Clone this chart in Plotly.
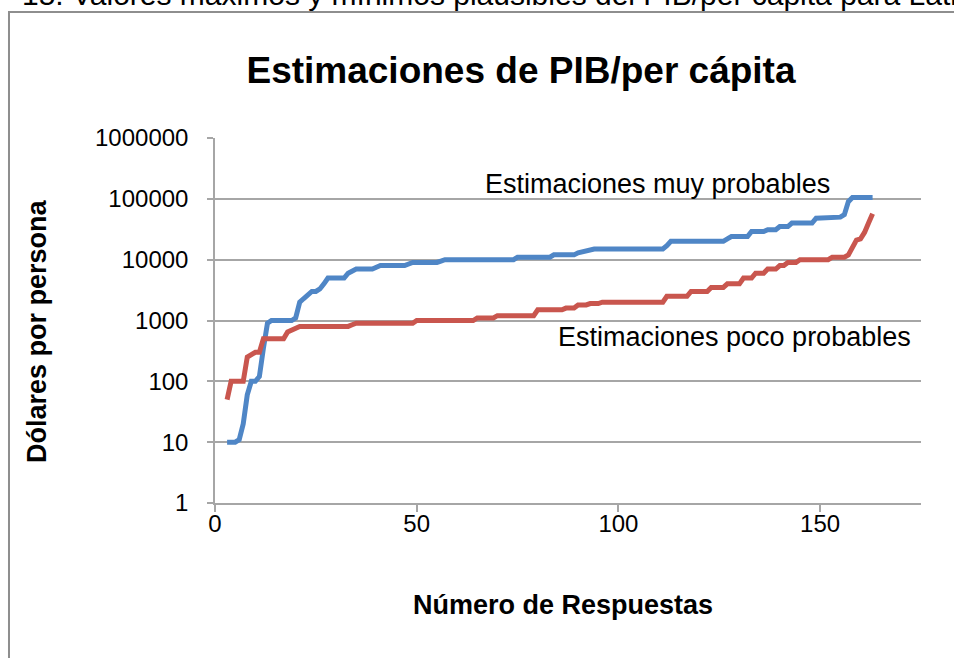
import plotly.graph_objects as go

# Response number (sorted answers)
responses = list(range(3, 164))

# "Estimaciones muy probables" (upper, blue)
muy_probables = [
    10, 10, 10, 11, 20, 60, 100, 100, 120, 350,
    900, 1000, 1000, 1000, 1000, 1000, 1000, 1100, 2000, 2300,
    2600, 3000, 3000, 3300, 4000, 5000, 5000, 5000, 5000, 5000,
    6000, 6500, 7000, 7000, 7000, 7000, 7000, 7500, 8000, 8000,
    8000, 8000, 8000, 8000, 8000, 8500, 9000, 9000, 9000, 9000,
    9000, 9000, 9000, 9500, 10000, 10000, 10000, 10000, 10000, 10000,
    10000, 10000, 10000, 10000, 10000, 10000, 10000, 10000, 10000, 10000,
    10000, 10000, 11000, 11000, 11000, 11000, 11000, 11000, 11000, 11000,
    11000, 12000, 12000, 12000, 12000, 12000, 12000, 13000, 13500, 14000,
    15000, 15000, 15000, 15000, 15000, 15000, 15000, 15000, 15000, 15000,
    15000, 15000, 15000, 15000, 15000, 15000, 15000, 15000, 15000, 17000,
    20000, 20000, 20000, 20000, 20000, 20000, 20000, 20000, 20000, 20000,
    20000, 20000, 20000, 20000, 22000, 24000, 24000, 24000, 24000, 24000,
    29000, 29000, 29000, 29000, 31000, 31000, 31000, 35000, 35000, 35000,
    40000, 40000, 40000, 40000, 40000, 40000, 48000, 48000, 48000, 48000,
    48000, 48000, 50000, 55000, 90000, 105000, 105000, 105000, 105000, 105000,
    105000,
]

# "Estimaciones poco probables" (lower, red)
poco_probables = [
    50, 100, 100, 100, 100, 250, 270, 300, 300, 500,
    500, 500, 500, 500, 500, 650, 700, 750, 800, 800,
    800, 800, 800, 800, 800, 800, 800, 800, 800, 800,
    800, 850, 900, 900, 900, 900, 900, 900, 900, 900,
    900, 900, 900, 900, 900, 900, 900, 1000, 1000, 1000,
    1000, 1000, 1000, 1000, 1000, 1000, 1000, 1000, 1000, 1000,
    1000, 1000, 1100, 1100, 1100, 1100, 1100, 1200, 1200, 1200,
    1200, 1200, 1200, 1200, 1200, 1200, 1200, 1500, 1500, 1500,
    1500, 1500, 1500, 1500, 1600, 1600, 1600, 1800, 1800, 1800,
    1900, 1900, 1900, 2000, 2000, 2000, 2000, 2000, 2000, 2000,
    2000, 2000, 2000, 2000, 2000, 2000, 2000, 2000, 2000, 2500,
    2500, 2500, 2500, 2500, 2500, 3000, 3000, 3000, 3000, 3000,
    3500, 3500, 3500, 3500, 4000, 4000, 4000, 4000, 5000, 5000,
    5000, 6000, 6000, 6000, 7000, 7000, 7000, 8000, 8000, 9000,
    9000, 9000, 10000, 10000, 10000, 10000, 10000, 10000, 10000, 10000,
    11000, 11000, 11000, 11000, 12000, 16000, 21000, 22000, 28000, 40000,
    57000,
]

y_tickvals = [1, 10, 100, 1000, 10000, 100000, 1000000]
y_ticktext = ["1", "10", "100", "1000", "10000", "100000", "1000000"]
x_tickvals = [0, 50, 100, 150]
x_ticktext = ["0", "50", "100", "150"]

FONT = "Liberation Sans, Arial, Helvetica, sans-serif"
GRID = "#a6a6a6"

fig = go.Figure()
fig.add_trace(go.Scatter(x=responses, y=muy_probables, mode="lines",
                         line=dict(color="#4F86C6", width=5),
                         name="Estimaciones muy probables", showlegend=False))
fig.add_trace(go.Scatter(x=responses, y=poco_probables, mode="lines",
                         line=dict(color="#C9564E", width=5),
                         name="Estimaciones poco probables", showlegend=False))

fig.update_layout(
    width=954, height=658, autosize=False,
    margin=dict(l=215, r=33, t=138, b=155),
    paper_bgcolor="white", plot_bgcolor="white",
    font=dict(family=FONT, color="black"),
    title=dict(text="<b>Estimaciones de PIB/per cápita</b>",
               font=dict(family=FONT, size=37, color="black"),
               xref="paper", x=0.4334, xanchor="center",
               yref="container", y=1 - 70 / 658, yanchor="middle"),
    xaxis=dict(range=[0, 175], tickvals=x_tickvals, ticktext=x_ticktext,
               showgrid=False, zeroline=False,
               showline=True, linecolor=GRID, linewidth=1.5,
               ticks="outside", ticklen=7, tickcolor=GRID, tickwidth=1.5,
               ticklabelstandoff=-9,
               tickfont=dict(family=FONT, size=24, color="black")),
    yaxis=dict(type="log", range=[0, 6], tickvals=y_tickvals, ticktext=y_ticktext,
               showgrid=True, gridcolor=GRID, gridwidth=1.5, zeroline=False,
               showline=True, linecolor=GRID, linewidth=1.5,
               ticks="outside", ticklen=6, tickcolor=GRID, tickwidth=1.5,
               ticklabelstandoff=14,
               tickfont=dict(family=FONT, size=24, color="black")),
    shapes=[dict(type="rect", xref="paper", yref="paper",
                 x0=-0.2918, x1=1.2, y0=-0.6, y1=1.3452,
                 line=dict(color="#8e8e8e", width=2), layer="below")],
    annotations=[
        dict(text="<b>Dólares por persona</b>", xref="paper", yref="paper",
             x=-0.2521, y=0.4712, textangle=-90, showarrow=False,
             xanchor="center", yanchor="middle",
             font=dict(family=FONT, size=27, color="black")),
        dict(text="<b>Número de Respuestas</b>", xref="paper", yref="paper",
             x=0.4936, y=-0.2795, showarrow=False,
             xanchor="center", yanchor="middle",
             font=dict(family=FONT, size=27, color="black")),
        dict(text="Estimaciones muy probables", xref="paper", yref="paper",
             x=0.6268, y=0.874, showarrow=False,
             xanchor="center", yanchor="middle",
             font=dict(family=FONT, size=27, color="black")),
        dict(text="Estimaciones poco probables", xref="paper", yref="paper",
             x=0.7358, y=0.4548, showarrow=False,
             xanchor="center", yanchor="middle",
             font=dict(family=FONT, size=27, color="black")),
        dict(text="15. Valores máximos y mínimos plausibles del PIB/per cápita para Latinoamérica",
             xref="paper", yref="paper", x=(20 - 215) / 706, y=(503 + 5) / 365,
             showarrow=False, xanchor="left", yanchor="middle",
             font=dict(family=FONT, size=30, color="black")),
    ],
)

fig.write_html("out.html", config={"displayModeBar": False},
               post_script="document.body.style.margin='0';")
